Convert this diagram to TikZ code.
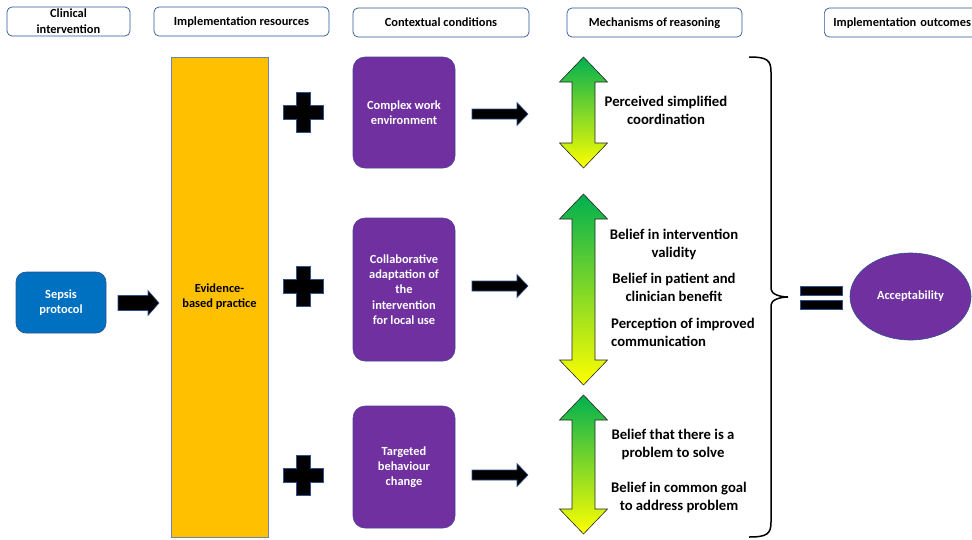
\documentclass[tikz,border=0pt]{standalone}
\usepackage{fontspec}
\setmainfont{Carlito}
\usetikzlibrary{shapes.geometric}

\definecolor{hdrblue}{HTML}{2F5597}
\definecolor{edgeblue}{HTML}{2F528F}
\definecolor{sepsisblue}{HTML}{0070C0}
\definecolor{evgold}{HTML}{FFC000}
\definecolor{ctxpurple}{HTML}{7030A0}
\definecolor{mgreen}{HTML}{00B050}
\definecolor{myellow}{HTML}{FFFF00}

\newcommand\smallbf{\fontsize{12.4}{15.2}\selectfont\bfseries}
\newcommand\hdrbf{\fontsize{12.4}{16}\selectfont\bfseries}
\newcommand\largebf{\fontsize{14.7}{18}\selectfont\bfseries}

% block arrow pointing right: x1, x2, y, shaft half-height, head half-height, head length
\newcommand\blockarrow[6]{%
  \filldraw[fill=black, draw=edgeblue, line width=0.6pt]
    (#1,#3-#4) -- (#2-#6,#3-#4) -- (#2-#6,#3-#5) -- (#2,#3) -- (#2-#6,#3+#5)
    -- (#2-#6,#3+#4) -- (#1,#3+#4) -- cycle;}

% plus sign centred at x, y
\newcommand\plussign[2]{%
  \filldraw[fill=black, draw=edgeblue, line width=0.6pt]
    (#1-7,#2-20) -- (#1+7,#2-20) -- (#1+7,#2-7) -- (#1+20,#2-7) -- (#1+20,#2+7)
    -- (#1+7,#2+7) -- (#1+7,#2+20) -- (#1-7,#2+20) -- (#1-7,#2+7) -- (#1-20,#2+7)
    -- (#1-20,#2-7) -- (#1-7,#2-7) -- cycle;}

% vertical double arrow shaded green to yellow: centre x, top y, bottom y
\newcommand\dblarrow[3]{%
  \shadedraw[top color=mgreen, bottom color=myellow, draw=black!85, line width=0.6pt]
    (#1,#2) -- (#1+24,#2+25) -- (#1+11.5,#2+25) -- (#1+11.5,#3-25) -- (#1+24,#3-25)
    -- (#1,#3) -- (#1-24,#3-25) -- (#1-11.5,#3-25) -- (#1-11.5,#2+25) -- (#1-24,#2+25) -- cycle;}

\tikzset{
  hdr/.style={draw=hdrblue, line width=0.7pt, rounded corners=5pt, fill=white,
    align=center, inner sep=0pt, font=\hdrbf},
  sepsisbox/.style={draw=edgeblue, line width=0.6pt, fill=sepsisblue, rounded corners=10pt,
    text=white, align=center, inner sep=0pt, font=\smallbf},
  evidbox/.style={draw=edgeblue!70, line width=0.6pt, fill=evgold,
    align=center, inner sep=0pt, font=\smallbf},
  ctxbox/.style={draw=edgeblue!60!ctxpurple, line width=0.6pt, fill=ctxpurple,
    rounded corners=12pt, text=white, align=center, inner sep=0pt, font=\smallbf},
  mechtext/.style={align=center, inner sep=0pt, font=\largebf},
  outcome/.style={ellipse, draw=edgeblue, line width=0.6pt, fill=ctxpurple, text=white,
    inner sep=0pt, font=\smallbf},
}

\begin{document}
\begin{tikzpicture}[x=1pt, y=-1pt]
\useasboundingbox (0,0) rectangle (972,539);
\begin{scope}
\clip (0,0) rectangle (972,539);

% column headings
\node[hdr, minimum width=123pt, minimum height=29pt] (hclin) at (68.5,21.5) {Clinical\\intervention};
\node[hdr, minimum width=175pt, minimum height=29pt, text depth=0pt] (hres) at (241.5,21.5) {Implementation resources};
\node[hdr, minimum width=176pt, minimum height=29pt, text depth=0pt] (hctx) at (441,22.5) {Contextual conditions};
\node[hdr, minimum width=175pt, minimum height=29pt, text depth=0pt] (hmech) at (654.5,22.5) {Mechanisms of reasoning};
\node[hdr, anchor=west, text width=170pt, align=left, inner xsep=9pt, minimum height=29pt, text depth=0pt] (hout) at (824,22.5) {Implementation outcomes};

% intervention and resources
\node[sepsisbox, minimum width=90pt, minimum height=61pt] (sepsis) at (61,302.5) {Sepsis\\protocol};
\node[evidbox, minimum width=97pt, minimum height=480pt] (evid) at (219.5,297) {Evidence-\\based practice};
\blockarrow{118}{159}{303}{7.5}{12.5}{11}

% contextual conditions
\node[ctxbox, minimum width=102pt, minimum height=111pt] (ctx1) at (404,112.5) {Complex work\\environment};
\node[ctxbox, minimum width=102pt, minimum height=143pt] (ctx2) at (404,289.5) {Collaborative\\adaptation of\\the\\intervention\\for local use};
\node[ctxbox, minimum width=102pt, minimum height=122pt] (ctx3) at (404,467) {Targeted\\behaviour\\change};

\plussign{303}{112.5}
\plussign{303}{286}
\plussign{303}{475}

\blockarrow{472}{528}{114}{5}{11.5}{11}
\blockarrow{472}{528}{286}{5}{11.5}{11}
\blockarrow{472}{528}{475}{5}{11.5}{11}

% mechanisms of reasoning
\dblarrow{583.5}{57}{168}
\dblarrow{583.5}{194}{385}
\dblarrow{583.5}{395}{534}

\node[mechtext] (m1) at (666,110) {Perceived simplified\\coordination};
\node[mechtext] (m2a) at (674,244) {Belief in intervention\\validity};
\node[mechtext] (m2b) at (674,287) {Belief in patient and\\clinician benefit};
\node[mechtext, align=left, anchor=west] (m2c) at (611,332) {Perception of improved\\communication};
\node[mechtext] (m3a) at (673,444) {Belief that there is a\\problem to solve};
\node[mechtext] (m3b) at (679,497) {Belief in common goal\\to address problem};

% brace, equals sign and outcome
\draw[line width=1.5pt] (749,57) .. controls (767,57) and (771,60) .. (771,72)
  -- (771,289) .. controls (771,294) and (780,297) .. (788,297)
  .. controls (780,297) and (771,300) .. (771,305)
  -- (771,522) .. controls (771,534) and (767,537) .. (749,537);

\filldraw[fill=black, draw=edgeblue, line width=0.6pt] (800,286) rectangle (842,295);
\filldraw[fill=black, draw=edgeblue, line width=0.6pt] (800,300) rectangle (842,309);

\node[outcome, minimum width=121pt, minimum height=87pt] (accept) at (910.5,296.5) {Acceptability};
\end{scope}
\end{tikzpicture}
\end{document}
